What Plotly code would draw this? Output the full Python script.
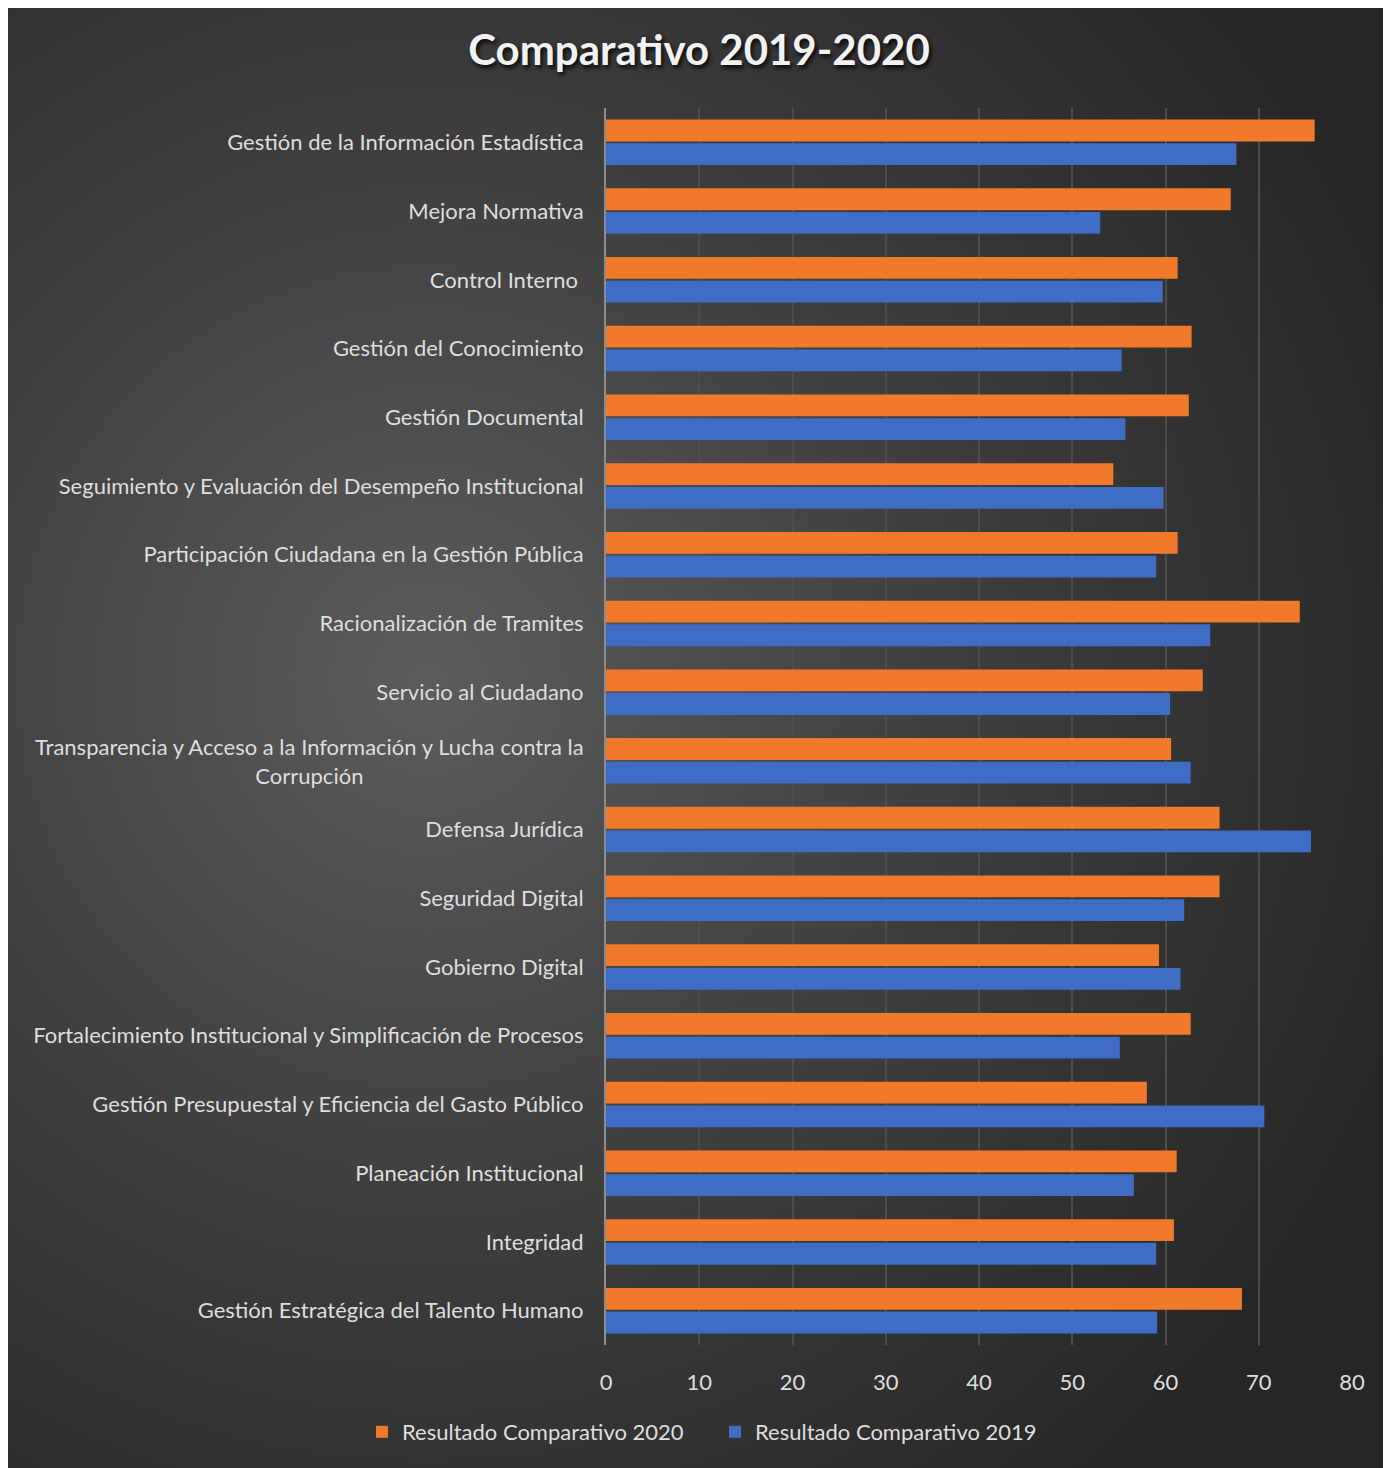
import base64
import plotly.graph_objects as go

categories = [
    "Gestión de la Información Estadística",
    "Mejora Normativa",
    "Control Interno ",
    "Gestión del Conocimiento",
    "Gestión Documental",
    "Seguimiento y Evaluación del Desempeño Institucional",
    "Participación Ciudadana en la Gestión Pública",
    "Racionalización de Tramites",
    "Servicio al Ciudadano",
    "Transparencia y Acceso a la Información y Lucha contra la Corrupción",
    "Defensa Jurídica",
    "Seguridad Digital",
    "Gobierno Digital",
    "Fortalecimiento Institucional y Simplificación de Procesos",
    "Gestión Presupuestal y Eficiencia del Gasto Público",
    "Planeación Institucional",
    "Integridad",
    "Gestión Estratégica del Talento Humano",
]
values_2020 = [76.0, 67.0, 61.3, 62.8, 62.5, 54.4, 61.3, 74.4, 64.0, 60.6,
               65.8, 65.8, 59.3, 62.7, 58.0, 61.2, 60.9, 68.2]
values_2019 = [67.6, 53.0, 59.7, 55.3, 55.7, 59.8, 59.0, 64.8, 60.5, 62.7,
               75.6, 62.0, 61.6, 55.1, 70.6, 56.6, 59.0, 59.1]
x_ticks = [0, 10, 20, 30, 40, 50, 60, 70, 80]

OFF = 8  # page body margin
W, H = 1391 - OFF, 1468 - OFF
L, R, T, B = 606 - OFF, 1352 - OFF, 108 - OFF, 1345 - OFF

FONT = "Lato"
TXT = "#dedede"
FS = 22

fig = go.Figure()
fig.add_trace(go.Bar(
    y=categories, x=values_2020, orientation="h",
    name="Resultado Comparativo 2020",
    marker=dict(color="#F07A2A", line=dict(width=0)),
))
fig.add_trace(go.Bar(
    y=categories, x=values_2019, orientation="h",
    name="Resultado Comparativo 2019",
    marker=dict(color="#3F6DC6", line=dict(width=0)),
))

# background radial gradient as svg image
svg = f'''<svg xmlns="http://www.w3.org/2000/svg" width="{W}" height="{H}" viewBox="0 0 {W} {H}">
<defs><radialGradient id="g" cx="420" cy="670" r="1050" gradientUnits="userSpaceOnUse">
<stop offset="0" stop-color="#5c5c5c"/><stop offset="0.45" stop-color="#414141"/>
<stop offset="1" stop-color="#262626"/></radialGradient></defs>
<rect x="0" y="0" width="{W}" height="{H}" fill="url(#g)"/>
</svg>'''
src = "data:image/svg+xml;base64," + base64.b64encode(svg.encode()).decode()
pw, ph = R - L, B - T

# wrapped label handled as centered annotation
tick_text = [("" if c.startswith("Transparencia") else c) for c in categories]

fig.update_layout(
    width=W, height=H,
    margin=dict(l=L, r=W - R, t=T, b=H - B),
    paper_bgcolor="#333333",
    plot_bgcolor="rgba(0,0,0,0)",
    barmode="group",
    bargap=0.31,
    bargroupgap=0.08,
    font=dict(family=FONT, color=TXT, size=FS),
    title=dict(
        text="<b>Comparativo 2019-2020</b>",
        x=(699 - OFF) / W, xref="container", xanchor="center",
        y=1 - (50 - OFF) / H, yref="container", yanchor="middle",
        font=dict(family=FONT, size=42, color="#f2f2f2",
                  shadow="2px 3px 4px rgba(0,0,0,0.85)"),
    ),
    legend=dict(
        orientation="h", xref="container", yref="container",
        x=(715 - OFF) / W, xanchor="center", y=1 - (1432 - OFF) / H, yanchor="middle",
        font=dict(family=FONT, size=FS, color=TXT),
        bgcolor="rgba(0,0,0,0)", itemwidth=30, traceorder="normal",
        entrywidth=308, entrywidthmode="pixels",
    ),
    xaxis=dict(
        range=[0, 80], tickvals=x_ticks, showgrid=True,
        gridcolor="#4c4c4c", gridwidth=2, zeroline=False,
        showline=False, ticks="", ticklabelstandoff=22,
        tickfont=dict(size=FS, color=TXT),
    ),
    yaxis=dict(
        autorange="reversed", tickvals=categories, ticktext=tick_text,
        showgrid=False, showline=True, linecolor="#8c8c8c", linewidth=2,
        ticks="", ticklabelstandoff=16,
        tickfont=dict(size=FS, color=TXT),
    ),
    images=[dict(
        source=src, xref="paper", yref="paper",
        x=-L / pw, y=1 + T / ph, sizex=W / pw, sizey=H / ph,
        xanchor="left", yanchor="top", sizing="stretch", layer="below",
    )],
    annotations=[dict(
        text="Transparencia y Acceso a la Información y Lucha contra la<br>Corrupción",
        xref="paper", x=0, xanchor="right", xshift=-20,
        yref="y", y=categories[9], yanchor="middle",
        align="center", showarrow=False,
        font=dict(family=FONT, size=FS, color=TXT),
    )],
)

fig.write_html("out.html")
